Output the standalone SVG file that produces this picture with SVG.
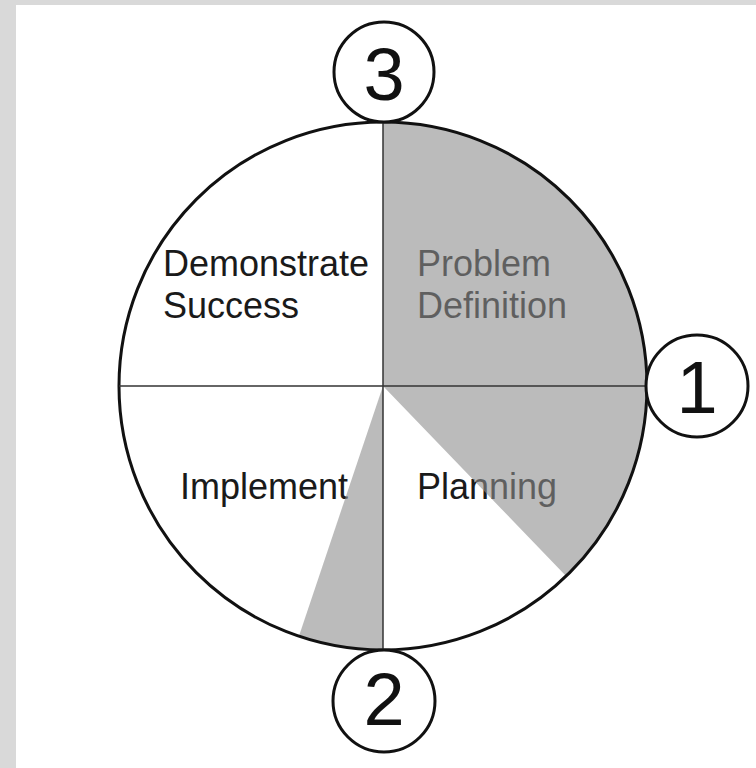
<svg xmlns="http://www.w3.org/2000/svg" width="756" height="768" viewBox="0 0 756 768">
  <style>
    .lbl { font-family: "Liberation Sans", Arial, sans-serif; font-size: 36px; fill: #1a1a1a; }
    .num { font-family: "Liberation Sans", Arial, sans-serif; font-size: 74px; fill: #111; text-anchor: middle; }
    .ring { fill: #ffffff; stroke: #111; stroke-width: 3; }
    .wedge { fill: #8d8d8d; fill-opacity: 0.6; stroke: none; }
    .div { stroke: #333; stroke-width: 1.5; fill: none; }
  </style>
  <rect x="0" y="0" width="756" height="768" fill="#d9d9d9"/>
  <rect x="16" y="5" width="740" height="763" fill="#ffffff"/>

  <g id="wheel">
    <circle cx="383" cy="386" r="264" fill="#ffffff"/>
    <g id="demonstrate-success">
      <text class="lbl" x="163" y="276">Demonstrate</text>
      <text class="lbl" x="163" y="318">Success</text>
    </g>
    <g id="problem-definition">
      <text class="lbl" x="417" y="276">Problem</text>
      <text class="lbl" x="417" y="318">Definition</text>
    </g>
    <g id="implement">
      <text class="lbl" x="180" y="499">Implement</text>
    </g>
    <g id="planning">
      <text class="lbl" x="417" y="499">Planning</text>
    </g>
    <path class="wedge" d="M383,386 L383,122 A264,264 0 0 1 566,576 Z"/>
    <path class="wedge" d="M383,386 L383,650 A264,264 0 0 1 299,636 Z"/>
    <circle cx="383" cy="386" r="264" fill="none" stroke="#111" stroke-width="3"/>
  </g>

  <g id="connectors">
    <line class="div" x1="383" y1="122" x2="383" y2="650"/>
    <line class="div" x1="119" y1="386" x2="647" y2="386"/>
  </g>

  <g id="marker-1">
    <circle class="ring" cx="697" cy="386" r="51"/>
    <text class="num" x="697" y="413">1</text>
  </g>
  <g id="marker-2">
    <circle class="ring" cx="384" cy="701" r="51"/>
    <text class="num" x="384" y="725">2</text>
  </g>
  <g id="marker-3">
    <circle class="ring" cx="384" cy="72" r="50"/>
    <text class="num" x="384" y="100">3</text>
  </g>
</svg>
